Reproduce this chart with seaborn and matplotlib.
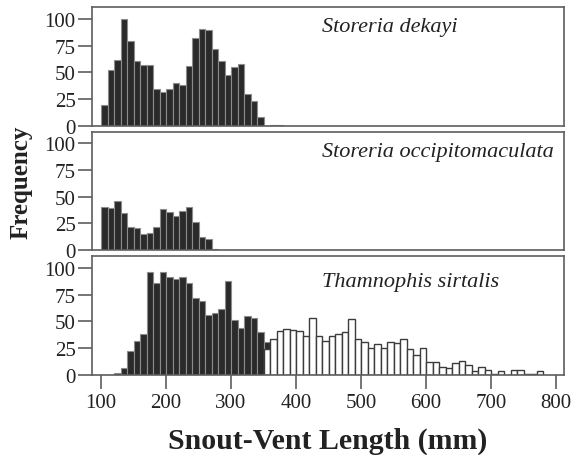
import numpy as np
import pandas as pd
import matplotlib
matplotlib.use("Agg")
import matplotlib.pyplot as plt
import seaborn as sns

# Histogram counts, 10 mm bins
bin_width = 10

dekayi_start = 100
dekayi_counts = [19, 52, 62, 100, 79, 61, 57, 57, 34, 32, 34, 40, 38, 56, 82, 91, 90, 72,
                 61, 48, 55, 58, 30, 23, 8, 0, 1, 1]

occip_start = 100
occip_counts = [40, 39, 46, 35, 22, 21, 15, 16, 22, 38, 36, 32, 37, 40, 26, 12, 10, 1]

sirtalis_dark_start = 100
sirtalis_dark_counts = [0, 0, 2, 6, 22, 32, 38, 96, 86, 96, 92, 90, 92, 86, 72, 69, 56, 58,
                        62, 88, 51, 44, 55, 53, 40, 31]

sirtalis_light_start = 350
sirtalis_light_counts = [24, 33, 41, 43, 42, 41, 36, 53, 36, 32, 36, 38, 40, 52, 33, 31, 25,
                         29, 25, 31, 30, 33, 24, 18, 25, 12, 12, 7, 6, 11, 13, 9, 3, 7, 4,
                         1, 3, 0, 4, 4, 1, 1, 3]

species = ["Storeria dekayi", "Storeria occipitomaculata", "Thamnophis sirtalis"]
x_ticks = [100, 200, 300, 400, 500, 600, 700, 800]
y_ticks = [0, 25, 50, 75, 100]

sns.set_style("ticks")
plt.rcParams["font.family"] = ["Liberation Serif", "DejaVu Serif"]

spine_col = "#5e5e5e"
dark_fill = "#2a2a2a"
dark_edge = "#8c8c8c"


def draw_hist(ax, start, counts, fill, edge, lw):
    edges = start + bin_width * np.arange(len(counts) + 1)
    df = pd.DataFrame({"svl": edges[:-1] + bin_width / 2, "n": counts})
    sns.histplot(data=df, x="svl", weights="n", bins=list(edges), ax=ax, color=fill,
                 edgecolor=edge, linewidth=lw, alpha=1, stat="count")


fig = plt.figure(figsize=(5.73, 4.56), dpi=100)
left, width = 0.160, 0.824
bottoms = [0.722, 0.4496, 0.1761]
height = 0.2597
axes = [fig.add_axes([left, b, width, height]) for b in bottoms]

draw_hist(axes[0], dekayi_start, dekayi_counts, dark_fill, dark_edge, 0.8)
draw_hist(axes[1], occip_start, occip_counts, dark_fill, dark_edge, 0.8)
draw_hist(axes[2], sirtalis_dark_start, sirtalis_dark_counts, dark_fill, dark_edge, 0.8)
draw_hist(axes[2], sirtalis_light_start, sirtalis_light_counts, "white", "#3c3c3c", 1.0)

text_y = [0.797, 0.792, 0.75]
for i, ax in enumerate(axes):
    ax.set_xlim(85.6, 812)
    ax.set_ylim(0, 111)
    ax.set_yticks(y_ticks)
    ax.set_ylabel("")
    ax.set_xlabel("")
    for s in ax.spines.values():
        s.set_visible(True)
        s.set_color(spine_col)
        s.set_linewidth(1.2)
    ax.tick_params(axis="y", direction="out", length=10, width=1.2, color=spine_col,
                   labelsize=15, pad=1.5, labelcolor="#222222")
    ax.text(0.4876, text_y[i], species[i], transform=ax.transAxes, style="italic",
            fontsize=16, va="baseline", ha="left", color="#222222")
    if i < 2:
        ax.set_xticks([])
    else:
        ax.set_xticks(x_ticks)
        ax.tick_params(axis="x", direction="out", length=10, width=1.2, color=spine_col,
                       labelsize=15, pad=3.5, labelcolor="#222222")

fig.text(0.572, (456 - 449) / 456, "Snout-Vent Length (mm)", ha="center", va="baseline",
         fontsize=21.5, fontweight="bold", color="#222222")
fig.text(0.0375, 1 - 182.5 / 456, "Frequency", rotation=90, ha="center", va="center",
         fontsize=18, fontweight="bold", color="#222222")

fig.savefig("out.png", dpi=100)
